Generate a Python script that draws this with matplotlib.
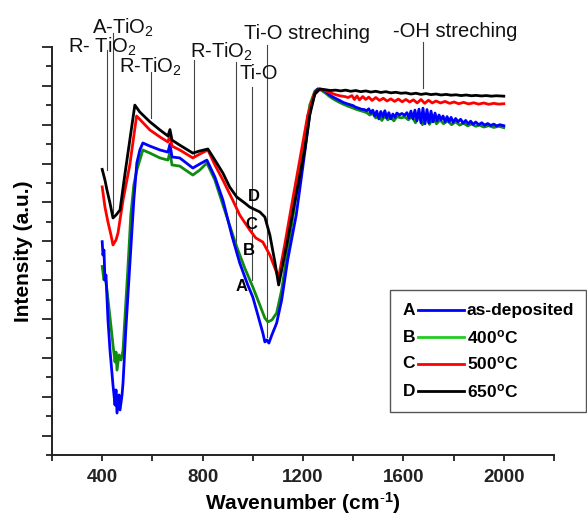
import matplotlib
matplotlib.use("Agg")
import matplotlib.pyplot as plt
from matplotlib.patches import Rectangle

plt.rcParams["font.family"] = ["Liberation Sans", "DejaVu Sans"]
plt.rcParams["mathtext.fontset"] = "custom"
plt.rcParams["mathtext.rm"] = "Liberation Sans"
plt.rcParams["mathtext.it"] = "Liberation Sans:italic"
plt.rcParams["mathtext.bf"] = "Liberation Sans:bold"

# ---- data (wavenumber cm-1, intensity a.u.) ----
d_x = [400, 411, 419, 431, 443, 455, 471, 490, 510, 530, 550, 590, 630, 662, 670, 678,
       709, 761, 789, 821, 849, 881, 908, 936, 968, 988, 1028, 1048, 1068, 1088, 1103,
       1135, 1165, 1207, 1227, 1247, 1267,
       1290, 1310, 1330, 1350, 1370, 1390, 1410, 1430, 1450, 1470, 1490, 1510, 1530, 1550,
       1570, 1590, 1610, 1630, 1650, 1670, 1690, 1710, 1730, 1750, 1770, 1790, 1810, 1830,
       1850, 1870, 1890, 1910, 1930, 1950, 1970, 2000]
d_y = [14.7, 14.15, 13.64, 12.97, 12.2, 12.35, 12.61, 14.41, 16.21, 18.01, 17.65, 17.15,
       16.73, 16.42, 16.75, 16.21, 15.95, 15.54, 15.65, 15.75, 15.18, 14.51, 13.79, 13.28,
       12.97, 12.76, 12.51, 12.25, 11.32, 9.93, 8.75, 10.81, 12.87, 15.7, 17.5, 18.58, 18.84,
       18.8, 18.76, 18.78, 18.74, 18.78, 18.72, 18.76, 18.7, 18.74, 18.68, 18.72, 18.66,
       18.7, 18.64, 18.67, 18.62, 18.64, 18.58, 18.62, 18.56, 18.6, 18.55, 18.58, 18.53,
       18.56, 18.52, 18.54, 18.5, 18.53, 18.49, 18.51, 18.48, 18.5, 18.47, 18.49, 18.47]

c_x = [400, 411, 423, 435, 443, 455, 463, 483, 510, 537, 590, 630, 662, 670, 678, 709,
       761, 789, 821, 849, 881, 920, 948, 988, 1012, 1040, 1068, 1099, 1103, 1127, 1155,
       1187, 1219, 1243, 1267,
       1285, 1300, 1318, 1334, 1350, 1366, 1380, 1395, 1405, 1415, 1425, 1438, 1450, 1462,
       1475, 1490, 1505, 1520, 1535, 1550, 1565, 1580, 1595, 1610, 1625, 1640, 1655, 1670,
       1685, 1700, 1715, 1730, 1748, 1766, 1784, 1802, 1820, 1840, 1860, 1880, 1900, 1920,
       1940, 1960, 1980, 2000]
c_y = [13.8, 12.76, 11.99, 11.32, 10.81, 11.07, 11.43, 13.12, 14.93, 17.45, 16.73, 16.37,
       16.11, 16.5, 15.9, 15.7, 15.29, 15.49, 15.7, 14.93, 14.15, 13.12, 12.35, 11.58, 11.17,
       10.96, 10.29, 9.26, 9.16, 10.81, 12.87, 15.18, 17.5, 18.53, 18.84,
       18.78, 18.68, 18.6, 18.53, 18.48, 18.45, 18.4, 18.5, 18.3, 18.48, 18.28, 18.45, 18.3,
       18.42, 18.25, 18.4, 18.25, 18.36, 18.22, 18.33, 18.2, 18.32, 18.18, 18.3, 18.17,
       18.28, 18.12, 18.3, 18.1, 18.26, 18.12, 18.22, 18.12, 18.2, 18.1, 18.17, 18.08, 18.15,
       18.07, 18.13, 18.06, 18.12, 18.05, 18.1, 18.06, 18.08]

a_x = [400, 403, 407, 411, 415, 423, 431, 443, 447, 451, 455, 459, 467, 471, 479, 483,
       494, 510, 526, 538, 550, 562, 590, 630, 662, 670, 678, 709, 761, 789, 817, 849, 881,
       916, 948, 980, 1000, 1020, 1040, 1048, 1056, 1064, 1076, 1095, 1115, 1139, 1173,
       1203, 1229, 1249, 1259,
       1275, 1290, 1306, 1320, 1335, 1346, 1360, 1375, 1390, 1400, 1410, 1420, 1432, 1444,
       1454, 1462, 1470, 1478, 1486, 1494, 1502, 1510, 1518, 1526, 1534, 1542, 1550, 1558,
       1566, 1574, 1584, 1594, 1604, 1614, 1622, 1630, 1638, 1646, 1654, 1662, 1670, 1678,
       1686, 1694, 1702, 1710, 1718, 1726, 1734, 1742, 1750, 1758, 1766, 1774, 1782, 1790,
       1798, 1808, 1818, 1828, 1838, 1848, 1858, 1868, 1878, 1888, 1900, 1912, 1924, 1936,
       1948, 1960, 1972, 1984, 2000]
a_y = [10.98, 10.29, 10.55, 9.01, 9.26, 6.95, 5.4, 3.6, 3.09, 2.57, 3.35, 2.16, 3.09,
       2.32, 3.09, 3.71, 6.43, 9.78, 13.12, 15.03, 15.7, 16.06, 15.9, 15.7, 15.59, 16.0,
       15.34, 15.29, 14.77, 14.98, 15.18, 14.31, 13.12, 11.32, 9.88, 8.75, 8.13, 7.21, 6.28,
       5.82, 5.92, 5.76, 6.18, 6.79, 7.98, 10.04, 12.35, 15.18, 17.76, 18.68, 18.84,
       18.8, 18.7, 18.53, 18.42, 18.32, 18.25, 18.15, 18.08, 18.02, 17.98, 17.9, 17.86, 17.8,
       17.78, 17.72, 17.82, 17.6, 17.75, 17.45, 17.7, 17.3, 17.68, 17.4, 17.72, 17.35, 17.62,
       17.3, 17.55, 17.38, 17.6, 17.5, 17.58, 17.48, 17.62, 17.35, 17.7, 17.3, 17.75, 17.2,
       17.8, 17.1, 17.85, 17.05, 17.78, 17.1, 17.7, 17.15, 17.6, 17.2, 17.5, 17.25, 17.45,
       17.15, 17.42, 17.15, 17.38, 17.12, 17.32, 17.15, 17.28, 17.08, 17.22, 17.05, 17.18,
       17.02, 17.14, 17.0, 17.1, 16.98, 17.06, 16.96, 17.03, 16.94, 17.0, 16.95]

b_x = [400, 407, 411, 419, 431, 443, 451, 455, 459, 467, 475, 483, 490, 502, 514, 526,
       538, 562, 590, 630, 662, 670, 678, 709, 761, 789, 817, 849, 881, 936, 968, 1000,
       1028, 1048, 1060, 1076, 1095, 1115, 1139, 1167, 1199, 1227, 1247, 1259,
       1275, 1290, 1306, 1320, 1335, 1350, 1365, 1380, 1395, 1410, 1425, 1440, 1454, 1466,
       1478, 1490, 1502, 1514, 1526, 1538, 1550, 1562, 1574, 1590, 1606, 1620, 1634, 1648,
       1662, 1676, 1690, 1704, 1718, 1732, 1746, 1760, 1776, 1792, 1808, 1824, 1840, 1856,
       1872, 1888, 1904, 1920, 1940, 1960, 1980, 2000]
b_y = [9.7, 9.01, 9.26, 8.49, 7.1, 5.66, 4.79, 5.3, 4.37, 5.15, 4.89, 5.4, 6.95, 9.52,
       12.35, 13.9, 14.67, 15.7, 15.54, 15.29, 15.18, 15.6, 14.93, 14.87, 14.41, 14.67,
       15.03, 14.15, 12.87, 10.71, 9.62, 8.65, 7.72, 7.05, 6.85, 6.95, 7.31, 8.49, 10.55,
       12.87, 15.7, 18.01, 18.73, 18.84,
       18.76, 18.62, 18.45, 18.33, 18.22, 18.12, 18.03, 17.95, 17.88, 17.8, 17.74, 17.68,
       17.62, 17.5, 17.58, 17.35, 17.5, 17.22, 17.45, 17.25, 17.4, 17.2, 17.42, 17.35, 17.4,
       17.25, 17.45, 17.1, 17.5, 17.0, 17.45, 17.02, 17.35, 17.05, 17.25, 17.05, 17.2, 17.0,
       17.15, 16.98, 17.08, 16.94, 17.04, 16.92, 16.98, 16.88, 16.95, 16.86, 16.92, 16.85]

series = [
    ("B", "400$^{\\mathbf{o}}$C", b_x, b_y, "#108c10", "#22cc22"),
    ("A", "as-deposited", a_x, a_y, "#0000ff", "#0000ff"),
    ("C", "500$^{\\mathbf{o}}$C", c_x, c_y, "#ff0000", "#ff0000"),
    ("D", "650$^{\\mathbf{o}}$C", d_x, d_y, "#000000", "#000000"),
]

# peak annotations: label, text x, text y, line x, line top, line bottom
peaks = [
    ("R- TiO$_2$", 399, 21.0, 419, 20.84, 14.67),
    ("A-TiO$_2$", 483, 22.0, 443, 21.7, 12.45),
    ("R-TiO$_2$", 594, 20.0, 594, 19.7, 17.34),
    ("R-TiO$_2$", 877, 20.75, 765, 20.33, 15.34),
    ("", 0, 0, 932, 20.23, 10.8),
    ("Ti-O", 1024, 19.66, 996, 18.94, 9.0),
    ("Ti-O streching", 1215, 21.72, 1056, 21.1, 6.07),
    ("-OH streching", 1808, 21.82, 1677, 21.26, 18.89),
]
curve_tags = [("D", 1004, 13.28), ("C", 996, 11.84), ("B", 984, 10.55), ("A", 956, 8.65)]

fig = plt.figure(figsize=(5.87, 5.16), dpi=100)
ax = fig.add_axes([52 / 587, 61 / 516, 502 / 587, 408 / 516])

for tag, lab, xs, ys, col, lcol in series:
    ax.plot(xs, ys, color=col, lw=2.0, solid_joinstyle="round", clip_on=False)

for lab, tx, ty, lx, l0, l1 in peaks:
    ax.plot([lx, lx], [l0, l1], color="#444444", lw=0.8, clip_on=False, zorder=1)
    if lab:
        ax.text(tx, ty, lab, fontsize=14.5, ha="center", va="center", color="#111111",
                clip_on=False)

for tag, tx, ty in curve_tags:
    ax.text(tx, ty, tag, fontsize=12, fontweight="bold", ha="center", va="center")

ax.set_xlim(200, 2200)
ax.set_ylim(0, 21)
ax.set_xticks([400, 800, 1200, 1600, 2000])
ax.set_xticks([200, 600, 1000, 1400, 1800, 2200], minor=True)
ax.set_yticks(list(range(1, 22, 2)))
ax.set_yticks(list(range(0, 21, 2)), minor=True)
ax.set_yticklabels([])
for lbl in ax.get_xticklabels():
    lbl.set_fontweight("bold")
ax.tick_params(axis="x", which="both", direction="out", length=4, width=1.3,
               labelsize=13.5, pad=6, colors="#222222")
ax.tick_params(axis="y", which="major", direction="out", length=7, width=1.3, colors="#222222")
ax.tick_params(axis="y", which="minor", direction="out", length=4.5, width=1.3, colors="#222222")
for s in ["top", "right"]:
    ax.spines[s].set_visible(False)
for s in ["left", "bottom"]:
    ax.spines[s].set_linewidth(1.4)
    ax.spines[s].set_color("#222222")

ax.set_xlabel("Wavenumber (cm$^{\\mathbf{\\text{-}1}}$)", fontsize=15, fontweight="bold",
              labelpad=3)
ax.set_ylabel("Intensity (a.u.)", fontsize=15, fontweight="bold", labelpad=3)

# legend drawn by hand: tag letter, line sample, text
ax.add_patch(Rectangle((0.674, 0.105), 0.39, 0.3, transform=ax.transAxes, fill=False,
                       edgecolor="#555555", lw=1.0, clip_on=False))
rows = [0.355, 0.288, 0.224, 0.156]
order = ["A", "B", "C", "D"]
info = {s[0]: s for s in series}
for yy, tag in zip(rows, order):
    _, lab, _, _, col, lcol = info[tag]
    ax.text(0.711, yy, tag, transform=ax.transAxes, fontsize=12.5, fontweight="bold",
            ha="center", va="center")
    ax.plot([0.73, 0.821], [yy, yy], transform=ax.transAxes, color=lcol, lw=2.0,
            clip_on=False)
    ax.text(0.826, yy, lab, transform=ax.transAxes, fontsize=12.5, fontweight="bold",
            ha="left", va="center")

fig.savefig("out.png", dpi=100)
